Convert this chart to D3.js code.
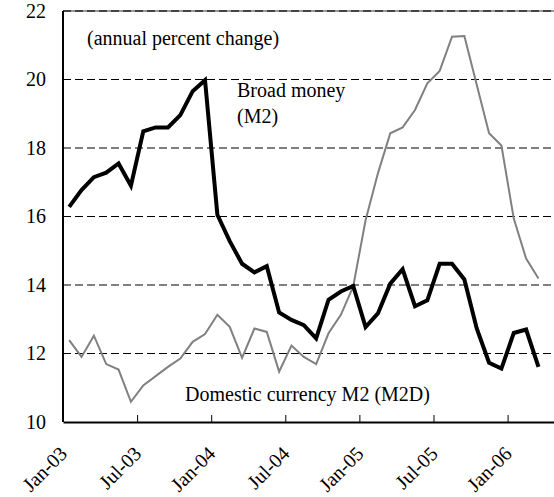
<!DOCTYPE html>
<html lang="en">
<meta charset="utf-8">
<script src="https://d3js.org/d3.v7.min.js"></script>
<style>
    body { margin: 0; background: #fff; }
    text { font-family: "Liberation Serif", "Times New Roman", serif; fill: #000; }
</style>
<svg id="base" width="554" height="497"></svg>

<script>
    // monthly, Jan-03 .. Mar-06
    var months = d3.range(39);
    var broadMoney = [16.28, 16.77, 17.15, 17.28, 17.55, 16.9, 18.49, 18.6, 18.6, 18.96, 19.66, 19.98,
        16.05, 15.28, 14.62, 14.37, 14.55, 13.2, 12.98, 12.83, 12.44, 13.57, 13.81, 13.97,
        12.77, 13.17, 14.04, 14.46, 13.38, 13.55, 14.62, 14.62, 14.16, 12.73, 11.73, 11.56,
        12.6, 12.7, 11.61];
    var domesticM2 = [12.39, 11.9, 12.52, 11.69, 11.53, 10.59, 11.07, 11.34, 11.61, 11.85, 12.34, 12.57,
        13.13, 12.78, 11.87, 12.73, 12.63, 11.47, 12.23, 11.9, 11.69, 12.59, 13.13, 13.96,
        15.89, 17.26, 18.43, 18.6, 19.11, 19.89, 20.25, 21.25, 21.27, 19.85, 18.43, 18.07,
        15.94, 14.77, 14.19];
    var tickMonths = [0, 6, 12, 18, 24, 30, 36];
    var tickLabels = ["Jan-03", "Jul-03", "Jan-04", "Jul-04", "Jan-05", "Jul-05", "Jan-06"];
    var yTicks = [10, 12, 14, 16, 18, 20, 22];

    var marginLeft = 63, marginTop = 11;
    var width = 494, height = 411;

    var svg = d3.select("#base")
        .append("g")
        .attr("transform", "translate(" + marginLeft + "," + marginTop + ")");

    var x = d3.scaleLinear()
        .domain([0, 40])
        .range([0, width]);

    var y = d3.scaleLinear()
        .domain([10, 22])
        .range([height, 0]);

    // gridlines
    svg.append("g")
        .selectAll("line")
        .data(yTicks.slice(1, 6))
        .enter()
        .append("line")
        .attr("x1", 0)
        .attr("x2", width)
        .attr("y1", function (d) { return y(d); })
        .attr("y2", function (d) { return y(d); })
        .attr("stroke", "#000")
        .attr("stroke-width", 1)
        .attr("stroke-dasharray", "8,4");

    // top line at 22
    svg.append("line")
        .attr("x1", 0).attr("x2", width)
        .attr("y1", y(22)).attr("y2", y(22))
        .attr("stroke", "#999")
        .attr("stroke-width", 2);
    svg.append("line")
        .attr("x1", 0).attr("x2", width)
        .attr("y1", y(22)).attr("y2", y(22))
        .attr("stroke", "#444")
        .attr("stroke-width", 2)
        .attr("stroke-dasharray", "8,4");

    // y axis
    var yAxis = svg.append("g")
        .call(d3.axisLeft(y)
            .tickValues(yTicks)
            .tickSize(0)
            .tickPadding(17));
    yAxis.select(".domain").remove();
    yAxis.selectAll("text")
        .style("font-size", "20px")
        .style("font-family", "Liberation Serif");

    svg.append("line")
        .attr("x1", 0).attr("x2", 0)
        .attr("y1", 0).attr("y2", height)
        .attr("stroke", "#000")
        .attr("stroke-width", 2);

    // x axis
    var xAxis = svg.append("g")
        .attr("transform", "translate(0," + height + ")")
        .call(d3.axisBottom(x)
            .tickValues(tickMonths)
            .tickFormat(function (d, i) { return tickLabels[i]; })
            .tickSize(-7)
            .tickSizeOuter(0));
    xAxis.select(".domain")
        .attr("stroke", "#000")
        .attr("stroke-width", 2);
    xAxis.selectAll(".tick line")
        .attr("stroke", "#000")
        .attr("stroke-width", 1);
    xAxis.selectAll("text")
        .style("font-size", "20px")
        .style("font-family", "Liberation Serif")
        .attr("text-anchor", "end")
        .attr("x", 0)
        .attr("y", 28)
        .attr("dy", "0.35em")
        .attr("transform", "rotate(-45, 0, 28)");

    var line = function (vals) {
        return d3.line()
            .x(function (d) { return x(d + 0.5); })
            .y(function (d) { return y(vals[d]); })(months);
    };

    svg.append("path")
        .attr("d", line(domesticM2))
        .attr("fill", "none")
        .attr("stroke", "#808080")
        .attr("stroke-width", 2);

    svg.append("path")
        .attr("d", line(broadMoney))
        .attr("fill", "none")
        .attr("stroke", "#000")
        .attr("stroke-width", 4)
        .attr("stroke-linejoin", "miter");

    // annotations
    var root = d3.select("#base");
    root.append("text").attr("x", 87).attr("y", 45)
        .style("font-size", "20px").text("(annual percent change)");
    root.append("text").attr("x", 237).attr("y", 97)
        .style("font-size", "20px").text("Broad money");
    root.append("text").attr("x", 237).attr("y", 123)
        .style("font-size", "20px").text("(M2)");
    root.append("text").attr("x", 185).attr("y", 401)
        .style("font-size", "20px").text("Domestic currency M2 (M2D)");
</script>
</html>
